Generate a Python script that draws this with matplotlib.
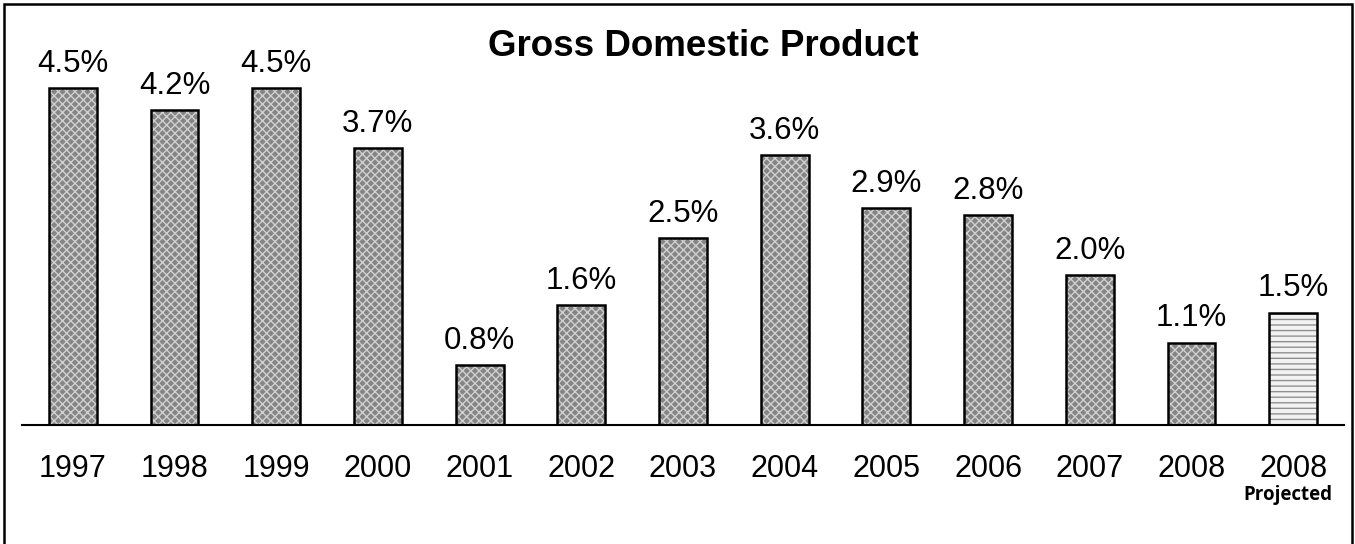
import matplotlib.pyplot as plt
import matplotlib.patches as mpatches
import numpy as np

# data
years = ["1997", "1998", "1999", "2000", "2001", "2002", "2003",
         "2004", "2005", "2006", "2007", "2008", "2008"]
gdp_growth = [4.5, 4.2, 4.5, 3.7, 0.8, 1.6, 2.5, 3.6, 2.9, 2.8, 2.0, 1.1, 1.5]
projected = [False] * 12 + [True]

plt.rcParams['font.family'] = ['Liberation Sans', 'DejaVu Sans']
plt.rcParams['hatch.linewidth'] = 1.0

fig = plt.figure(figsize=(13.55, 5.44), dpi=100)
W, H = 1355, 544
# axes placed in pixel units: baseline at y=425, x from 22 to 1344
ax = fig.add_axes([22 / W, (H - 425) / H, (1344 - 22) / W, (425 - 50) / H])

x = np.arange(len(years))
width = 0.47

for xi, val, proj in zip(x, gdp_growth, projected):
    if proj:
        ax.bar(xi, val, width, color='#f2f2f2', edgecolor='#909090',
               hatch='---', linewidth=0, zorder=2)
    else:
        ax.bar(xi, val, width, color='#858585', edgecolor='#d0d0d0',
               hatch='xxxx', linewidth=0, zorder=2)
    ax.bar(xi, val, width, fill=False, edgecolor='black', linewidth=1.8, zorder=3)
    ax.text(xi, val + 0.12, f"{val:.1f}%", ha='center', va='bottom', fontsize=22.5)

ax.set_xlim(-0.5, len(years) - 0.5)
ax.set_ylim(0, 5.0)
ax.set_xticks(x, years, fontsize=22)
ax.tick_params(axis='x', length=0, pad=21)
ax.set_yticks([])
for side in ('left', 'right', 'top'):
    ax.spines[side].set_visible(False)
ax.spines['bottom'].set_linewidth(1.5)

ax.text(x[-1] - 0.05, -0.93, "Projected", ha='center', va='center', fontsize=13.5,
        fontweight='bold', family=['Open Sans', 'DejaVu Sans'])

fig.text(703 / W, 1 - 46 / H, "Gross Domestic Product", ha='center', va='center',
         fontsize=26.5, fontweight='bold')

# frame around the figure
border = mpatches.Rectangle((4 / W, -0.05), (1352 - 4) / W, 1.05 - 4 / H,
                            transform=fig.transFigure, fill=False,
                            edgecolor='black', linewidth=1.8)
fig.patches.append(border)

plt.savefig("out.png", dpi=100)
plt.close(fig)
